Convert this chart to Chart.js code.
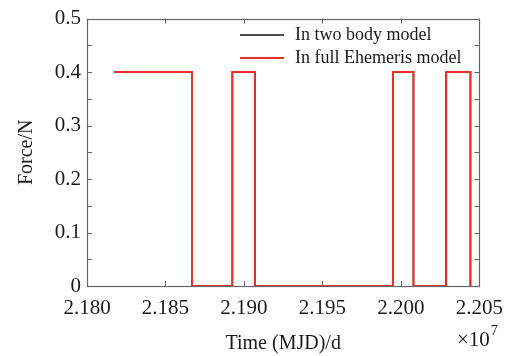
<!DOCTYPE html>
<html>
<head>
<meta charset="utf-8">
<script src="https://cdn.jsdelivr.net/npm/chart.js@4.4.0/dist/chart.umd.min.js"></script>
<style>
html,body{margin:0;padding:0;background:#fff;}
#wrap{width:513px;height:356px;position:relative;}
</style>
</head>
<body>
<div id="wrap"><canvas id="c" width="513" height="356"></canvas></div>
<script>
// Time in units of 1e7 MJD days
const timeTwoBody = [2.18173, 2.18669, 2.18669, 2.18926, 2.18926, 2.19070, 2.19070, 2.19949, 2.19949, 2.20080, 2.20080, 2.20287, 2.20287, 2.20443, 2.20443];
const forceTwoBody = [0.4, 0.4, 0, 0, 0.4, 0.4, 0, 0, 0.4, 0.4, 0, 0, 0.4, 0.4, 0];
const timeFull = [2.18173, 2.18669, 2.18669, 2.18926, 2.18926, 2.19070, 2.19070, 2.19949, 2.19949, 2.20080, 2.20080, 2.20289, 2.20289, 2.20443, 2.20443];
const forceFull = [0.4, 0.4, 0, 0, 0.4, 0.4, 0, 0, 0.4, 0.4, 0, 0, 0.4, 0.4, 0];
const xTickValues = [2.180, 2.185, 2.190, 2.195, 2.200, 2.205];
const yTickValues = [0, 0.1, 0.2, 0.3, 0.4, 0.5];
const seriesLabels = ['In two body model', 'In full Ehemeris model'];

const FONT = "'Liberation Serif', 'Times New Roman', serif";
const AXIS = '#666666';
const TEXT = '#1a1a1a';

function pts(xs, ys){ return xs.map((x,i)=>({x:x, y:ys[i]})); }

const framePlugin = {
  id: 'frame',
  afterDatasetsDraw(chart){
    const ctx = chart.ctx, a = chart.chartArea;
    const xs = chart.scales.x, ys = chart.scales.y;
    ctx.save();
    ctx.strokeStyle = AXIS;
    ctx.lineWidth = 1;
    ctx.beginPath();
    xTickValues.forEach(v=>{
      const px = Math.round(xs.getPixelForValue(v)) + 0.5;
      ctx.moveTo(px, a.bottom); ctx.lineTo(px, a.bottom - 5);
      ctx.moveTo(px, a.top); ctx.lineTo(px, a.top + 5);
    });
    for (let k = 0; k <= 10; k++){
      const py = Math.round(ys.getPixelForValue(k*0.05)) + 0.5;
      ctx.moveTo(a.left, py); ctx.lineTo(a.left + 5, py);
      ctx.moveTo(a.right, py); ctx.lineTo(a.right - 5, py);
    }
    ctx.stroke();
    ctx.lineWidth = 1.2;
    ctx.strokeRect(Math.round(a.left)+0.5, Math.round(a.top)+0.5, Math.round(a.right-a.left), Math.round(a.bottom-a.top));
    ctx.restore();
  },
  afterDraw(chart){
    const ctx = chart.ctx;
    ctx.save();
    ctx.font = '18px ' + FONT;
    ctx.textBaseline = 'middle';
    ctx.textAlign = 'left';
    const rows = [35, 58];
    chart.data.datasets.forEach((ds, i)=>{
      const y = rows[i];
      ctx.strokeStyle = ds.borderColor;
      ctx.lineWidth = ds.borderWidth;
      ctx.beginPath(); ctx.moveTo(240, y); ctx.lineTo(284, y); ctx.stroke();
      ctx.fillStyle = TEXT;
      ctx.fillText(ds.label, 295, y);
    });
    ctx.font = '21px ' + FONT;
    ctx.textAlign = 'left';
    ctx.textBaseline = 'alphabetic';
    ctx.fillStyle = TEXT;
    ctx.fillText('\u00d710', 457, 346);
    const w = ctx.measureText('\u00d710').width;
    ctx.font = '14px ' + FONT;
    ctx.fillText('7', 457 + w + 1, 335);
    ctx.restore();
  }
};

new Chart(document.getElementById('c'), {
  type: 'line',
  data: {
    datasets: [
      { label: seriesLabels[0], data: pts(timeTwoBody, forceTwoBody), borderColor: '#111111', borderWidth: 1.5, pointRadius: 0, tension: 0, fill: false, order: 2 },
      { label: seriesLabels[1], data: pts(timeFull, forceFull), borderColor: '#e8302c', borderWidth: 2, pointRadius: 0, tension: 0, fill: false, order: 1 }
    ]
  },
  options: {
    responsive: false,
    animation: false,
    events: [],
    layout: { padding: { left: 0, right: 31, top: 18, bottom: 0 } },
    plugins: { legend: { display: false }, tooltip: { enabled: false } },
    scales: {
      x: {
        type: 'linear', min: 2.180, max: 2.205,
        afterBuildTicks(s){ s.ticks = xTickValues.map(v=>({value:v})); },
        afterFit(s){ s.height = 70; },
        grid: { display: false, drawTicks: false },
        border: { display: false },
        ticks: { font: { family: FONT, size: 21 }, color: TEXT, padding: 10, maxRotation: 0,
                 callback: v => v.toFixed(3) },
        title: { display: true, text: 'Time (MJD)/d', font: { family: FONT, size: 20 }, color: TEXT, padding: { top: 1, bottom: 0 } }
      },
      y: {
        type: 'linear', min: 0, max: 0.5,
        afterBuildTicks(s){ s.ticks = yTickValues.map(v=>({value:v})); },
        afterFit(s){ s.width = 87; },
        grid: { display: false, drawTicks: false },
        border: { display: false },
        ticks: { font: { family: FONT, size: 21 }, color: TEXT, padding: 6,
                 callback: v => (v === 0 ? '0' : v.toFixed(1)) },
        title: { display: true, text: 'Force/N', font: { family: FONT, size: 20 }, color: TEXT, padding: { top: 15, bottom: 0 } }
      }
    }
  },
  plugins: [framePlugin]
});
</script>
</body>
</html>
